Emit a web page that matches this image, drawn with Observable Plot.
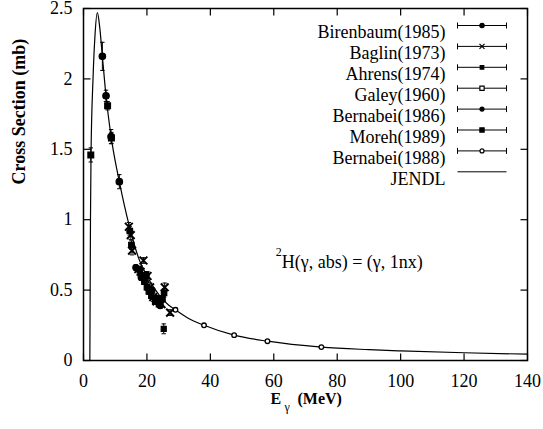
<!DOCTYPE html>
<html><head><meta charset="utf-8">
<script src="https://cdn.jsdelivr.net/npm/d3@7"></script>
<script src="https://cdn.jsdelivr.net/npm/@observablehq/plot@0.6"></script>
<style>
html,body{margin:0;padding:0;background:#fff;font-family:"Liberation Serif",serif;}
#chart svg text{font-family:"Liberation Serif",serif;}
</style>
</head><body><div id="chart"></div>
<script>
// ---- tick values ----
const xTicks = [0, 20, 40, 60, 80, 100, 120, 140];
const yTicks = [0, 0.5, 1, 1.5, 2, 2.5];

// ---- JENDL evaluated curve ----
const jendlE = [2.0, 2.2, 2.37, 3.0, 3.6, 4.37, 5.05, 5.95, 7.1, 8.7, 11.3, 14.5, 17.5, 20, 24, 27, 29, 33, 38, 47.5, 58, 75, 90, 100, 120, 140];
const jendlS = [0, 1.0, 1.46, 2.0, 2.3, 2.47, 2.38, 2.16, 1.88, 1.59, 1.27, 0.95, 0.72, 0.60, 0.46, 0.39, 0.36, 0.30, 0.25, 0.18, 0.137, 0.095, 0.077, 0.068, 0.055, 0.045];

// ---- experimental series ----
const birenbaumE = [5.95, 7.1, 8.7, 11.3];
const birenbaumS = [2.16, 1.88, 1.59, 1.27];
const birenbaumErr = [0.10, 0.04, 0.05, 0.05];

const baglinE = [14.3, 14.9, 15.3, 17.3, 18.0, 18.9, 19.5, 20.2, 21.0, 22.0, 23.0, 24.6, 25.6, 27.3];
const baglinS = [0.95, 0.89, 0.78, 0.65, 0.63, 0.71, 0.58, 0.60, 0.52, 0.45, 0.42, 0.40, 0.52, 0.34];
const baglinErr = [0.03, 0.03, 0.03, 0.02, 0.02, 0.02, 0.03, 0.03, 0.03, 0.03, 0.02, 0.02, 0.03, 0.02];

const ahrensE = [14.6, 15.1, 17.8, 18.6, 19.2, 20.0, 20.6, 21.4, 22.6, 23.8, 24.9, 25.4];
const ahrensS = [0.92, 0.82, 0.64, 0.60, 0.56, 0.52, 0.49, 0.46, 0.42, 0.40, 0.44, 0.48];
const ahrensErr = [0.03, 0.03, 0.02, 0.02, 0.02, 0.02, 0.02, 0.02, 0.02, 0.02, 0.02, 0.03];

const galeyE = [25.3];
const galeyS = [0.225];
const galeyErr = [0.035];

const bernabei86E = [16.5, 18.2, 19.8, 21.6, 23.4, 24.2];
const bernabei86S = [0.66, 0.59, 0.61, 0.50, 0.44, 0.39];
const bernabei86Err = [0.02, 0.02, 0.02, 0.02, 0.02, 0.02];

const morehE = [2.3, 7.6, 8.8];
const morehS = [1.46, 1.81, 1.58];
const morehErr = [0.05, 0.03, 0.04];

const bernabei88E = [29, 38, 47.5, 58, 75];
const bernabei88S = [0.36, 0.25, 0.18, 0.137, 0.095];
const bernabei88Err = [0.012, 0.008, 0.006, 0.005, 0.004];

const legendNames = ["Birenbaum(1985)", "Baglin(1973)", "Ahrens(1974)", "Galey(1960)", "Bernabei(1986)", "Moreh(1989)", "Bernabei(1988)", "JENDL"];
const xLabelMain = "E", xLabelSub = "γ", xLabelUnit = "(MeV)";
const yLabel = "Cross Section (mb)";
const annotationSup = "2";
const annotationText = "H(γ, abs) = (γ, 1nx)";
const annotationAt = {E: 62.5, S: 0.70};

const FONT = "Liberation Serif, serif";

// ---- build tables ----
const jendl = jendlE.map((e, i) => ({E: e, S: jendlS[i]}));
const seriesDefs = [
  {name: legendNames[0], E: birenbaumE, S: birenbaumS, err: birenbaumErr, symbol: "circle", fill: "black", stroke: "black", r: 3.2, lr: 2.2},
  {name: legendNames[1], E: baglinE, S: baglinS, err: baglinErr, symbol: "times", fill: "none", stroke: "black", r: 3.6, lr: 2.4},
  {name: legendNames[2], E: ahrensE, S: ahrensS, err: ahrensErr, symbol: "square", fill: "black", stroke: "black", r: 3.0, lr: 2.0},
  {name: legendNames[3], E: galeyE, S: galeyS, err: galeyErr, symbol: "square", fill: "black", stroke: "black", r: 2.8, lr: 2.4, lfill: "white"},
  {name: legendNames[4], E: bernabei86E, S: bernabei86S, err: bernabei86Err, symbol: "circle", fill: "black", stroke: "black", r: 3.0, lr: 2.0},
  {name: legendNames[5], E: morehE, S: morehS, err: morehErr, symbol: "square", fill: "black", stroke: "black", r: 3.2, lr: 2.4},
  {name: legendNames[6], E: bernabei88E, S: bernabei88S, err: bernabei88Err, symbol: "circle", fill: "white", stroke: "black", r: 2.3, lr: 2.0}
];
const points = seriesDefs.flatMap(s => s.E.map((e, i) => ({name: s.name, E: e, S: s.S[i], err: s.err[i]})));

// ---- custom glyphs (inward ticks, error-bar caps, legend samples) ----
const sym = f => ({draw: f});
const tickUp = sym(c => {c.moveTo(0, 0); c.lineTo(0, -7);});
const tickDown = sym(c => {c.moveTo(0, 0); c.lineTo(0, 7);});
const tickRight = sym(c => {c.moveTo(0, 0); c.lineTo(7, 0);});
const tickLeft = sym(c => {c.moveTo(0, 0); c.lineTo(-7, 0);});
const cap = sym(c => {c.moveTo(-2.2, 0); c.lineTo(2.2, 0);});
const legendBar = sym(c => {
  c.moveTo(-24.5, 0); c.lineTo(24.5, 0);
  c.moveTo(-24.5, -3); c.lineTo(-24.5, 3);
  c.moveTo(24.5, -3); c.lineTo(24.5, 3);
});
const legendLine = sym(c => {c.moveTo(-24.5, 0); c.lineTo(24.5, 0);});

const marks = [
  Plot.line(jendl, {x: "E", y: "S", curve: "monotone-x", stroke: "black", strokeWidth: 1.2}),
  Plot.ruleX(points, {x: "E", y1: d => d.S - d.err, y2: d => d.S + d.err, stroke: "black", strokeWidth: 1}),
  Plot.dot(points, {x: "E", y: d => d.S - d.err, symbol: cap, fill: "none", stroke: "black", strokeWidth: 1}),
  Plot.dot(points, {x: "E", y: d => d.S + d.err, symbol: cap, fill: "none", stroke: "black", strokeWidth: 1})
];
seriesDefs.forEach(s => {
  marks.push(Plot.dot(points.filter(p => p.name === s.name), {x: "E", y: "S", symbol: s.symbol, r: s.r, fill: s.fill, stroke: s.stroke, strokeWidth: s.symbol === "times" ? 2 : 1.3}));
});

// legend
legendNames.forEach((name, i) => {
  const dy = 17 + i * 20.9;
  marks.push(Plot.text([name], {frameAnchor: "top-right", dx: -82, dy, textAnchor: "end", text: d => d, fontSize: 18, fontFamily: FONT}));
  marks.push(Plot.dot([name], {frameAnchor: "top-right", dx: -45.5, dy, symbol: i < 7 ? legendBar : legendLine, fill: "none", stroke: "black", strokeWidth: 1}));
  if (i < 7) {
    const s = seriesDefs[i];
    marks.push(Plot.dot([name], {frameAnchor: "top-right", dx: -45.5, dy, symbol: s.symbol, r: s.lr, fill: s.lfill || s.fill, stroke: s.stroke, strokeWidth: 1.2}));
  }
});

// annotation
marks.push(Plot.text([annotationText], {x: () => annotationAt.E, y: () => annotationAt.S, text: d => d, textAnchor: "start", fontSize: 18, fontFamily: FONT}));
marks.push(Plot.text([annotationSup], {x: () => annotationAt.E, y: () => annotationAt.S, text: d => d, textAnchor: "start", dx: -6, dy: -10, fontSize: 12, fontFamily: FONT}));

// axis titles
marks.push(Plot.text([yLabel], {frameAnchor: "left", dx: -64.5, rotate: -90, text: d => d, fontSize: 18, fontWeight: "bold", fontFamily: FONT}));
marks.push(Plot.text([xLabelMain], {frameAnchor: "bottom", dx: -35, dy: 43, textAnchor: "start", text: d => d, fontSize: 16, fontWeight: "bold", fontFamily: FONT}));
marks.push(Plot.text([xLabelSub], {frameAnchor: "bottom", dx: -21, dy: 50, textAnchor: "start", text: d => d, fontSize: 12, fontFamily: FONT}));
marks.push(Plot.text([xLabelUnit], {frameAnchor: "bottom", dx: -8, dy: 43, textAnchor: "start", text: d => d, fontSize: 16, fontWeight: "bold", fontFamily: FONT}));

// frame & inward ticks
marks.push(Plot.frame({stroke: "black", strokeWidth: 1.5}));
marks.push(Plot.dot(xTicks, {x: d => d, frameAnchor: "bottom", symbol: tickUp, fill: "none", stroke: "black", strokeWidth: 1.2}));
marks.push(Plot.dot(xTicks, {x: d => d, frameAnchor: "top", symbol: tickDown, fill: "none", stroke: "black", strokeWidth: 1.2}));
marks.push(Plot.dot(yTicks, {y: d => d, frameAnchor: "left", symbol: tickRight, fill: "none", stroke: "black", strokeWidth: 1.2}));
marks.push(Plot.dot(yTicks, {y: d => d, frameAnchor: "right", symbol: tickLeft, fill: "none", stroke: "black", strokeWidth: 1.2}));

const chart = Plot.plot({
  width: 543, height: 429,
  marginLeft: 83, marginRight: 16, marginTop: 8, marginBottom: 69,
  style: "font-family: 'Liberation Serif', serif; font-size: 18px; background: white;",
  x: {domain: [0, 140], ticks: xTicks, tickSize: 0, tickPadding: 14, label: null},
  y: {domain: [0, 2.5], ticks: yTicks, tickSize: 0, tickPadding: 11, label: null, tickFormat: d => String(d)},
  marks
});
chart.setAttribute("font-family", FONT);
chart.setAttribute("font-size", "18");
d3.select(chart).selectAll("text").each(function () {
  if (!this.getAttribute("font-family")) this.setAttribute("font-family", FONT);
});
document.getElementById("chart").appendChild(chart);
</script>
</body></html>
